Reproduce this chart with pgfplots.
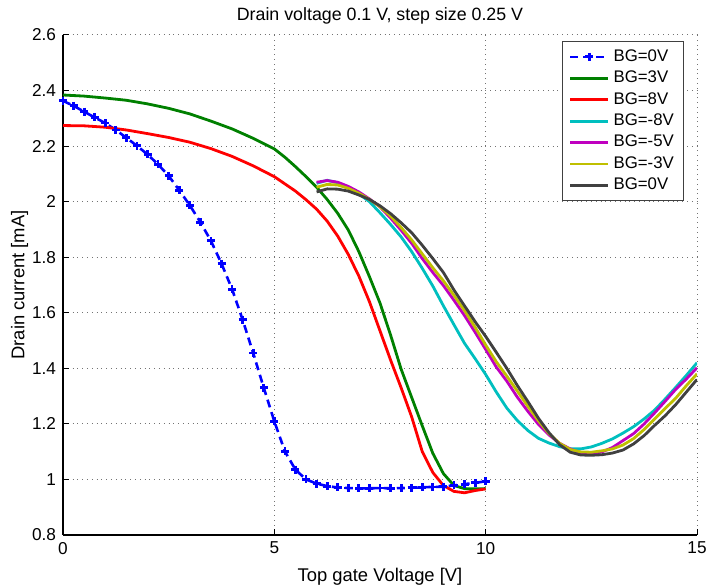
\documentclass[border=0pt]{standalone}
\usepackage{fontspec}
\setmainfont{Liberation Sans}
\usepackage{pgfplots}
\pgfplotsset{compat=1.18}
\definecolor{mblue}{rgb}{0,0,1}
\definecolor{mgreen}{rgb}{0,0.5,0}
\definecolor{mred}{rgb}{1,0,0}
\definecolor{mcyan}{rgb}{0,0.75,0.75}
\definecolor{mmag}{rgb}{0.75,0,0.75}
\definecolor{myel}{rgb}{0.75,0.75,0}
\definecolor{mgray}{rgb}{0.25,0.25,0.25}
\begin{document}
\begin{tikzpicture}[font=\fontsize{8.6}{10}\selectfont]
\begin{axis}[
  scale only axis, width=317pt, height=250pt,
  xmin=0, xmax=15, ymin=0.8, ymax=2.6,
  xtick={0,5,10,15},
  ytick={0.8,1,1.2,1.4,1.6,1.8,2,2.2,2.4,2.6},
  /pgf/number format/assume math mode=true,
  axis lines=left, axis line style={-, line width=0.6pt},
  tick align=inside, major tick length=3pt,
  tick style={line width=0.5pt, black},
  grid=major, grid style={dotted, black!55, line width=0.5pt},
  title={Drain voltage 0.1 V, step size 0.25 V},
  title style={yshift=-4pt, font=\fontsize{8.9}{10}\selectfont},
  xlabel={Top gate Voltage [V]},
  ylabel={Drain current [mA]},
  label style={font=\fontsize{9.2}{10}\selectfont},
  ylabel shift=-5pt,
  legend style={at={(0.98,0.988)}, anchor=north east, draw=black!75, line width=0.5pt,
    font=\fontsize{8.4}{10}\selectfont, cells={anchor=west}, row sep=-0.65pt},
  legend image code/.code={\draw[mark repeat=2,mark phase=2,#1] plot coordinates {(0pt,0pt) (9.5pt,0pt) (19pt,0pt)};},
  every axis plot/.append style={line join=round},
]
\coordinate (sw) at (rel axis cs:0,0);
\coordinate (ne) at (rel axis cs:1,1);
\addplot[color=mblue, line width=1.3pt, dash pattern=on 4pt off 2.5pt, mark=+, mark size=2pt, mark options={solid, line width=1.4pt}] coordinates {
(0,2.363) (0.25,2.345) (0.5,2.324) (0.75,2.303) (1.0,2.283) (1.25,2.258) (1.5,2.230) (1.75,2.201)
(2.0,2.170) (2.25,2.134) (2.5,2.093) (2.75,2.041) (3.0,1.987) (3.25,1.926) (3.5,1.859) (3.75,1.777)
(4.0,1.685) (4.25,1.575) (4.5,1.455) (4.75,1.330) (5.0,1.209) (5.25,1.101) (5.5,1.035) (5.75,1.000)
(6.0,0.985) (6.25,0.976) (6.5,0.971) (6.75,0.969) (7.0,0.968) (7.25,0.968) (7.5,0.969) (7.75,0.968)
(8.0,0.969) (8.25,0.970) (8.5,0.972) (8.75,0.973) (9.0,0.974) (9.25,0.979) (9.5,0.983) (9.75,0.988) (10.0,0.993)};
\addlegendentry{BG=0V}
\addplot[color=mgreen, line width=1.4pt] coordinates {
(0,2.384) (0.5,2.380) (1.0,2.373) (1.5,2.365) (2.0,2.352) (2.5,2.336) (3.0,2.316) (3.5,2.290)
(4.0,2.262) (4.5,2.228) (5.0,2.190) (5.25,2.160) (5.5,2.126) (5.75,2.090) (6.0,2.052) (6.25,2.008)
(6.5,1.958) (6.75,1.898) (7.0,1.820) (7.25,1.730) (7.5,1.635) (7.75,1.520) (8.0,1.397) (8.25,1.295)
(8.5,1.193) (8.75,1.094) (9.0,1.021) (9.25,0.978) (9.5,0.967) (9.75,0.966) (10.0,0.967)};
\addlegendentry{BG=3V}
\addplot[color=mred, line width=1.4pt] coordinates {
(0,2.274) (0.5,2.273) (1.0,2.268) (1.5,2.258) (2.0,2.245) (2.5,2.231) (3.0,2.214) (3.5,2.191)
(4.0,2.163) (4.5,2.129) (5.0,2.090) (5.5,2.038) (5.75,2.007) (6.0,1.973) (6.25,1.930) (6.5,1.876)
(6.75,1.810) (7.0,1.732) (7.25,1.640) (7.5,1.535) (7.75,1.430) (8.0,1.330) (8.25,1.225) (8.5,1.100)
(8.75,1.025) (9.0,0.978) (9.25,0.957) (9.5,0.952) (9.75,0.960) (10.0,0.966)};
\addlegendentry{BG=8V}
\addplot[color=mcyan, line width=1.4pt] coordinates {
(6.0,2.066) (6.25,2.077) (6.5,2.068) (6.75,2.052) (7.0,2.028) (7.25,2.000) (7.5,1.960) (7.75,1.918)
(8.0,1.873) (8.25,1.820) (8.5,1.760) (8.75,1.696) (9.0,1.625) (9.25,1.557) (9.5,1.490) (9.75,1.435)
(10.0,1.378) (10.25,1.315) (10.5,1.257) (10.75,1.212) (11.0,1.176) (11.25,1.148) (11.5,1.131) (11.75,1.118)
(12.0,1.110) (12.25,1.110) (12.5,1.117) (12.75,1.130) (13.0,1.146) (13.25,1.167) (13.5,1.190) (13.75,1.218)
(14.0,1.250) (14.25,1.290) (14.5,1.332) (14.75,1.375) (15.0,1.420)};
\addlegendentry{BG=-8V}
\addplot[color=mmag, line width=1.4pt] coordinates {
(6.0,2.070) (6.25,2.076) (6.5,2.070) (6.75,2.055) (7.0,2.035) (7.25,2.010) (7.5,1.981) (7.75,1.941)
(8.0,1.897) (8.25,1.850) (8.5,1.795) (8.75,1.745) (9.0,1.698) (9.25,1.645) (9.5,1.590) (9.75,1.530)
(10.0,1.468) (10.25,1.405) (10.5,1.354) (10.75,1.296) (11.0,1.245) (11.25,1.198) (11.5,1.160) (11.75,1.130)
(12.0,1.110) (12.25,1.096) (12.5,1.093) (12.75,1.099) (13.0,1.115) (13.25,1.140) (13.5,1.165) (13.75,1.200)
(14.0,1.240) (14.25,1.282) (14.5,1.325) (14.75,1.362) (15.0,1.402)};
\addlegendentry{BG=-5V}
\addplot[color=myel, line width=1.4pt] coordinates {
(6.0,2.052) (6.25,2.062) (6.5,2.060) (6.75,2.048) (7.0,2.030) (7.25,2.008) (7.5,1.982) (7.75,1.948)
(8.0,1.907) (8.25,1.862) (8.5,1.812) (8.75,1.762) (9.0,1.715) (9.25,1.663) (9.5,1.608) (9.75,1.548)
(10.0,1.484) (10.25,1.424) (10.5,1.372) (10.75,1.318) (11.0,1.263) (11.25,1.211) (11.5,1.165) (11.75,1.130)
(12.0,1.108) (12.25,1.099) (12.5,1.098) (12.75,1.103) (13.0,1.110) (13.25,1.124) (13.5,1.147) (13.75,1.180)
(14.0,1.218) (14.25,1.256) (14.5,1.293) (14.75,1.338) (15.0,1.380)};
\addlegendentry{BG=-3V}
\addplot[color=mgray, line width=1.4pt] coordinates {
(6.0,2.035) (6.25,2.046) (6.5,2.045) (6.75,2.038) (7.0,2.024) (7.25,2.008) (7.5,1.985) (7.75,1.957)
(8.0,1.924) (8.25,1.888) (8.5,1.843) (8.75,1.795) (9.0,1.745) (9.25,1.682) (9.5,1.625) (9.75,1.568)
(10.0,1.515) (10.25,1.458) (10.5,1.400) (10.75,1.338) (11.0,1.280) (11.25,1.220) (11.5,1.168) (11.75,1.125)
(12.0,1.098) (12.25,1.088) (12.5,1.087) (12.75,1.089) (13.0,1.095) (13.25,1.106) (13.5,1.128) (13.75,1.158)
(14.0,1.195) (14.25,1.230) (14.5,1.270) (14.75,1.315) (15.0,1.360)};
\addlegendentry{BG=0V}
\end{axis}
\pgfresetboundingbox
\useasboundingbox ([xshift=-31.5pt,yshift=-26.5pt]sw) rectangle ([xshift=5pt,yshift=17.5pt]ne);
\end{tikzpicture}
\end{document}
